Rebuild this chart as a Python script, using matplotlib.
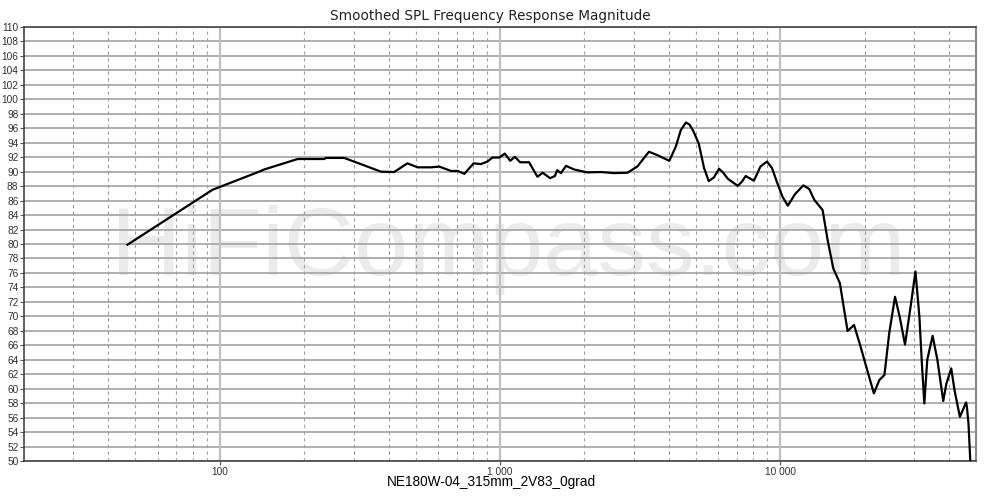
import matplotlib
matplotlib.use("Agg")
import matplotlib.pyplot as plt
from matplotlib.ticker import FixedLocator, NullFormatter

# ---- data ----
freq_hz = [46.8, 94.2, 136, 144, 189.5, 236, 239, 278, 376, 419, 467, 508, 567, 607,
           669, 706, 746, 805, 855, 902, 940, 994, 1040, 1088, 1130, 1180, 1270, 1360,
           1420, 1510, 1570, 1600, 1650, 1720, 1840, 2050, 2290, 2550, 2850, 3090,
           3400, 3640, 4020, 4240, 4420, 4610, 4750, 4900, 5120, 5350, 5560, 5800, 6050,
           6250, 6510, 7050, 7300, 7530, 8060, 8500, 8970, 9350, 9730, 10200, 10650,
           11300, 12100, 12700, 13240, 14170, 14770, 15480, 16330, 17400, 18350, 19300,
           20300, 21600, 22600, 23560, 24500, 25700, 26700, 27900, 29200, 30400, 31400,
           32100, 32700, 33500, 35000, 36400, 38200, 39200, 40800, 41900, 43800, 46100,
           46400, 47000, 47700]
spl_db = [79.9, 87.5, 89.9, 90.3, 91.75, 91.75, 91.9, 91.9, 90.0, 89.95, 91.15, 90.6, 90.6, 90.7,
          90.1, 90.1, 89.7, 91.15, 91.05, 91.4, 91.95, 91.95, 92.5, 91.5, 92.05, 91.3, 91.3, 89.3,
          89.85, 89.1, 89.4, 90.2, 89.8, 90.8, 90.3, 89.9, 89.95, 89.8, 89.85, 90.7,
          92.75, 92.3, 91.5, 93.45, 95.75, 96.8, 96.5, 95.6, 93.9, 90.5, 88.7, 89.2, 90.4,
          89.9, 89.0, 88.05, 88.6, 89.4, 88.75, 90.7, 91.4, 90.5, 88.6, 86.5, 85.3,
          86.9, 88.1, 87.6, 86.1, 84.7, 80.55, 76.6, 74.6, 67.97, 68.8, 66.0,
          63.0, 59.35, 61.2, 61.9, 67.65, 72.7, 69.95, 66.1, 71.3, 76.2, 69.95,
          63.0, 57.95, 64.0, 67.3, 64.0, 58.3, 60.7, 62.8, 59.8, 56.1, 58.1,
          57.5, 55.2, 50.1]

y_ticks = list(range(50, 111, 2))
x_major = [100, 1000, 10000]
x_major_labels = ["100", "1 000", "10 000"]
x_minor = [f * d for d in (10, 100, 1000, 10000) for f in range(2, 10) if 20 < f * d < 50000]

title = "Smoothed SPL Frequency Response Magnitude"
xlabel = "NE180W-04_315mm_2V83_0grad"
watermark = "HiFiCompass.com"

fig = plt.figure(figsize=(10, 4.98), dpi=100)
ax = fig.add_axes([0.024, 1 - 461 / 498, 0.952, (461 - 27) / 498])
ax.set_xscale("log")
ax.set_xlim(20, 50000)
ax.set_ylim(50, 110)

# watermark (behind grid and curve)
ax.text(0.508, 1 - 275 / 498, watermark, fontsize=70, family="Liberation Sans",
        color="#ebebeb", ha="center", va="baseline", zorder=0.5,
        transform=fig.transFigure, clip_on=False)

# grid
for y in y_ticks:
    ax.axhline(y, color="#a8a8a8", lw=1.3, zorder=1)
for x in x_minor:
    ax.axvline(x, color="#a0a0a0", lw=0.8, ls=(0, (3, 3)), zorder=1)
for x in x_major:
    ax.axvline(x, color="#c0c0c0", lw=1.6, zorder=1)

ax.plot(freq_hz, spl_db, color="black", lw=1.6, zorder=3, solid_joinstyle="round")

ax.yaxis.set_major_locator(FixedLocator(y_ticks))
ax.set_yticklabels([str(v) for v in y_ticks])
ax.xaxis.set_major_locator(FixedLocator(x_major))
ax.set_xticklabels(x_major_labels)
ax.xaxis.set_minor_locator(FixedLocator([]))
ax.xaxis.set_minor_formatter(NullFormatter())
ax.tick_params(axis="both", which="major", length=3, width=0.8, color="#555555",
               labelsize=7.3, labelcolor="#333333", pad=1)
for lab in ax.get_xticklabels() + ax.get_yticklabels():
    lab.set_family("Liberation Sans")

for side in ("left", "bottom", "top"):
    ax.spines[side].set_color("#444444")
    ax.spines[side].set_linewidth(1.2)
ax.spines["right"].set_color("#888888")
ax.spines["right"].set_linewidth(1.5)

fig.text(0.49, 1 - 16 / 498, title, fontsize=9.8, family="DejaVu Sans",
         color="#222222", ha="center", va="center")
fig.text(0.491, 1 - 482 / 498, xlabel, fontsize=9.8, family="Liberation Sans",
         color="black", ha="center", va="center")

fig.savefig("out.png", dpi=100)
